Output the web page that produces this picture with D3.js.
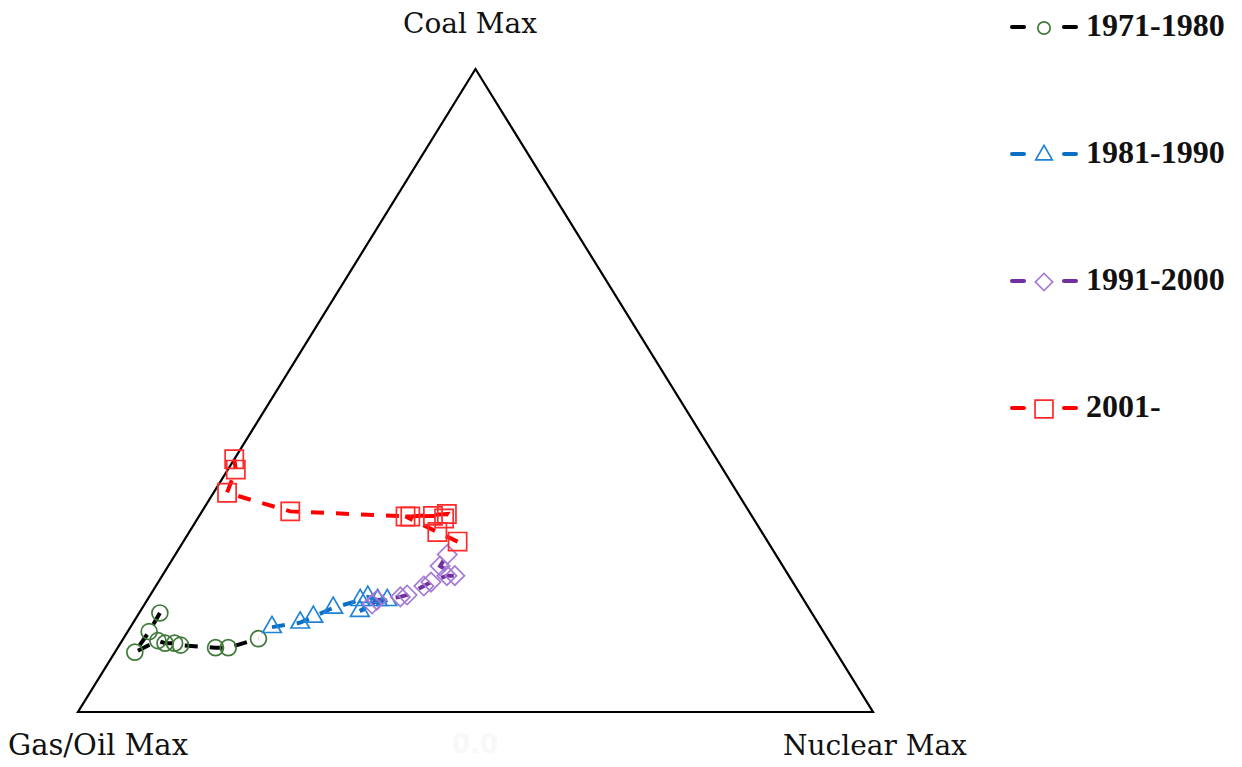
<!DOCTYPE html>
<html>
<head>
<meta charset="utf-8">
<script src="https://cdn.jsdelivr.net/npm/d3@7"></script>
<style>
  body { margin: 0; background: #fff; }
  svg { display: block; }
</style>
</head>
<body>
<div id="chart"></div>
<script>
// shares in %: [coal, gas/oil, nuclear]
var s1971 = [
  [15.4, 82.0, 2.6], [12.5, 84.8, 2.7], [9.3, 88.2, 2.5], [11.1, 84.4, 4.5], [10.7, 83.7, 5.6],
  [10.7, 82.5, 6.8], [10.4, 81.9, 7.7], [10.0, 77.7, 12.3], [10.0, 76.1, 13.9], [11.4, 71.6, 17.0]
];
var s1981 = [
  [13.2, 69.0, 17.8], [13.9, 65.1, 21.0], [14.8, 63.0, 22.2], [16.2, 59.8, 24.0], [17.4, 55.8, 26.8],
  [17.9, 54.6, 27.5], [17.4, 53.6, 29.0], [15.7, 56.7, 27.6], [17.4, 52.4, 30.2]
];
var s1991 = [
  [16.8, 54.6, 28.6], [17.4, 53.7, 28.9], [17.9, 50.5, 31.6], [18.2, 49.5, 32.3], [19.6, 46.7, 33.7],
  [20.2, 45.5, 34.3], [21.2, 43.0, 35.8], [21.2, 42.0, 36.8], [22.7, 43.1, 34.2], [24.5, 41.3, 34.2]
];
var s2001 = [
  [26.5, 39.0, 34.5], [28.0, 40.8, 31.2], [30.4, 43.6, 26.0], [30.5, 40.1, 29.4], [30.1, 38.9, 31.0],
  [30.8, 38.2, 31.0], [30.4, 43.0, 26.6], [31.2, 57.7, 11.1], [34.1, 64.2, 1.7], [37.7, 61.3, 1.0],
  [39.3, 60.7, 0.0]
];

var seriesNames = ["1971-1980", "1981-1990", "1991-2000", "2001-"];
var cornerLabels = ["Coal Max", "Gas/Oil Max", "Nuclear Max"];

var width = 1242, height = 767;

var svg = d3.select("#chart").append("svg")
  .attr("width", width)
  .attr("height", height);

// x runs along the base (nuclear + half of coal), y is the coal share
var x = d3.scaleLinear().domain([0, 1]).range([78, 873]);
var y = d3.scaleLinear().domain([0, 1]).range([712, 69]);

function proj(d) {
  var s = d[0] + d[1] + d[2];
  var c = d[0] / s, n = d[2] / s;
  return [x(n + c / 2), y(c)];
}

// triangle frame
var corners = [[100, 0, 0], [0, 100, 0], [0, 0, 100]];
svg.append("path")
  .attr("d", d3.line()(corners.map(proj)) + "Z")
  .attr("fill", "none")
  .attr("stroke", "#000")
  .attr("stroke-width", 2.2);

// corner labels
svg.append("text").attr("x", 470).attr("y", 33)
  .attr("text-anchor", "middle")
  .style("font-family", "DejaVu Serif").style("font-size", "28px").attr("fill", "#111")
  .text(cornerLabels[0]);
svg.append("text").attr("x", 8).attr("y", 755)
  .style("font-family", "DejaVu Serif").style("font-size", "29px").attr("fill", "#111")
  .text(cornerLabels[1]);
svg.append("text").attr("x", 783).attr("y", 755)
  .style("font-family", "DejaVu Serif").style("font-size", "28px").attr("fill", "#111")
  .text(cornerLabels[2]);
// faint leftover tick label
svg.append("text").attr("x", 475).attr("y", 753)
  .attr("text-anchor", "middle")
  .style("font-family", "DejaVu Sans").style("font-size", "26px").style("font-weight", "bold")
  .attr("fill", "#f8f8f8")
  .text("0.0");

var series = [
  { name: seriesNames[0], data: s1971, line: "#000000", mark: "#3f7a3a", symbol: d3.symbolCircle, size: 200, rot: 0, lsize: 120 },
  { name: seriesNames[1], data: s1981, line: "#0b6fc6", mark: "#2083d8", symbol: d3.symbolTriangle, size: 150, rot: 0, lsize: 120 },
  { name: seriesNames[2], data: s1991, line: "#7030a0", mark: "#a57ad6", symbol: d3.symbolSquare, size: 185, rot: 45, lsize: 150 },
  { name: seriesNames[3], data: s2001, line: "#ff0000", mark: "#ff2a2a", symbol: d3.symbolSquare, size: 330, rot: 0, lsize: 320 }
];

var line = d3.line()
  .x(function (d) { return proj(d)[0]; })
  .y(function (d) { return proj(d)[1]; });

series.forEach(function (s) {
  svg.append("path")
    .datum(s.data)
    .attr("d", line)
    .attr("fill", "none")
    .attr("stroke", s.line)
    .attr("stroke-width", 4)
    .attr("stroke-dasharray", "13,12");
});

series.forEach(function (s) {
  svg.selectAll(null)
    .data(s.data)
    .enter().append("path")
    .attr("d", d3.symbol().type(s.symbol).size(s.size))
    .attr("transform", function (d) {
      var p = proj(d);
      return "translate(" + p[0] + "," + p[1] + ") rotate(" + s.rot + ")";
    })
    .attr("fill", "none")
    .attr("stroke", s.mark)
    .attr("stroke-width", 1.7);
});

// legend
var legend = svg.append("g").attr("transform", "translate(1010,27)");
var items = legend.selectAll("g")
  .data(series)
  .enter().append("g")
  .attr("transform", function (d, i) { return "translate(0," + i * 127 + ")"; });

items.append("line").attr("x1", 2).attr("x2", 14).attr("y1", 0).attr("y2", 0)
  .attr("stroke", function (d) { return d.line; }).attr("stroke-width", 4).attr("stroke-linecap", "round");
items.append("line").attr("x1", 54).attr("x2", 66).attr("y1", 0).attr("y2", 0)
  .attr("stroke", function (d) { return d.line; }).attr("stroke-width", 4).attr("stroke-linecap", "round");
items.append("path")
  .attr("d", function (d) { return d3.symbol().type(d.symbol).size(d.lsize)(); })
  .attr("transform", function (d) { return "translate(34,1) rotate(" + d.rot + ")"; })
  .attr("fill", "none")
  .attr("stroke", function (d) { return d.mark; })
  .attr("stroke-width", 1.7);
items.append("text")
  .attr("x", 76)
  .attr("y", 9)
  .style("font-family", "Liberation Serif")
  .style("font-size", "32px")
  .style("font-weight", "bold")
  .attr("fill", "#111")
  .text(function (d) { return d.name; });
</script>
</body>
</html>
